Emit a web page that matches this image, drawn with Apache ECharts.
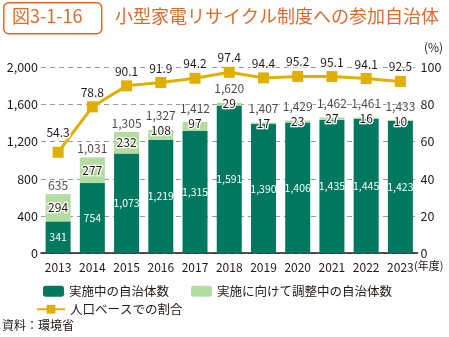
<!DOCTYPE html>
<html><head><meta charset="utf-8">
<script src="https://cdn.jsdelivr.net/npm/echarts@6/dist/echarts.min.js"></script>
<style>html,body{margin:0;padding:0;background:#fff}#c{width:449px;height:337px}</style>
</head><body><div id="c"></div>
<script>
const years = ['2013','2014','2015','2016','2017','2018','2019','2020','2021','2022','2023'];
const implemented = [341,754,1073,1219,1315,1591,1390,1406,1435,1445,1423];
const adjusting = [294,277,232,108,97,29,17,23,27,16,10];
const totals = [635,1031,1305,1327,1412,1620,1407,1429,1462,1461,1433];
const popRatio = [54.3,78.8,90.1,91.9,94.2,97.4,94.4,95.2,95.1,94.1,92.5];
const leftTicks = [0,400,800,1200,1600,2000];
const rightTicks = [0,20,40,60,80,100];

const FONT = '"Noto Sans CJK JP","Noto Sans",sans-serif';
const TXT = '#231815';
const ORANGE = '#e0692d';
const fmt = v => Number(v).toLocaleString('en-US');

const chart = echarts.init(document.getElementById('c'));
chart.setOption({
  animation:false,
  textStyle:{fontFamily:FONT,color:TXT},
  grid:{left:41,right:31.5,top:67.5,bottom:84,containLabel:false},
  xAxis:{type:'category',data:years,
    axisLine:{lineStyle:{color:'#231815',width:1.5}},
    axisTick:{show:false},
    axisLabel:{color:TXT,fontSize:12,margin:8,interval:0,fontFamily:FONT}},
  yAxis:[
    {type:'value',min:leftTicks[0],max:leftTicks[leftTicks.length-1],interval:400,
     axisLine:{show:false},axisTick:{show:false},
     axisLabel:{color:TXT,fontSize:12.5,margin:3,formatter:v=>fmt(v)},
     splitLine:{lineStyle:{color:'#9a9a9a',type:[5,4],width:1}}},
    {type:'value',min:rightTicks[0],max:rightTicks[rightTicks.length-1],interval:20,
     axisLine:{show:false},axisTick:{show:false},
     axisLabel:{color:TXT,fontSize:12.5,margin:3},
     splitLine:{show:false}}
  ],
  legend:[
    {left:38,top:280,itemWidth:21,itemHeight:11,itemGap:8,
     textStyle:{fontSize:12.5,color:TXT,fontFamily:FONT},data:['実施中の自治体数']},
    {left:186,top:280,itemWidth:21,itemHeight:11,
     textStyle:{fontSize:12.5,color:TXT,fontFamily:FONT},data:['実施に向けて調整中の自治体数']},
    {left:31,top:298,itemWidth:28,itemHeight:11,
     textStyle:{fontSize:12.5,color:TXT,fontFamily:FONT},data:['人口ベースでの割合']}
  ],
  graphic:[
    {type:'rect',left:3,top:2,shape:{width:98,height:31,r:5},style:{fill:'#fff',stroke:ORANGE,lineWidth:1.5}},
    {type:'text',left:12,top:7,style:{text:'図3-1-16',fill:ORANGE,font:'18px '+FONT}},
    {type:'text',left:115,top:7,style:{text:'小型家電リサイクル制度への参加自治体',fill:ORANGE,font:'18px '+FONT}},
    {type:'text',left:424,top:41,style:{text:'(%)',fill:TXT,font:'12px '+FONT}},
    {type:'text',left:414,top:260,style:{text:'(年度)',fill:TXT,font:'11px '+FONT}},
    {type:'text',left:2,top:319,style:{text:'資料：環境省',fill:TXT,font:'12px '+FONT}}
  ],
  series:[
    {name:'実施中の自治体数',type:'bar',stack:'a',data:implemented,barWidth:25,
     itemStyle:{color:'#00785f'},
     label:{show:true,position:'inside',color:'#fff',fontSize:10.5,fontFamily:FONT,formatter:p=>fmt(p.value)}},
    {name:'実施に向けて調整中の自治体数',type:'bar',stack:'a',barWidth:25,
     itemStyle:{color:'#b4dca1'},
     data:adjusting.map(v=>v<150?{value:v,label:{position:'top',distance:-7}}:{value:v}),
     label:{show:true,position:'inside',color:TXT,fontSize:12,fontFamily:FONT,
       textBorderColor:'#fff',textBorderWidth:2.5,formatter:p=>fmt(p.value)}},
    {name:'total',type:'scatter',symbolSize:0,silent:true,z:5,
     data:totals.map((v,i)=>({value:v,label:{distance:adjusting[i]<150?8:3}})),
     label:{show:true,position:'top',color:TXT,fontSize:12,fontFamily:FONT,
       textBorderColor:'#fff',textBorderWidth:2,formatter:p=>fmt(p.value)}},
    {name:'人口ベースでの割合',type:'line',yAxisIndex:1,data:popRatio.map((v,i)=>i===0?{value:v,label:{distance:8}}:{value:v}),
     symbol:'rect',symbolSize:11,z:6,
     lineStyle:{color:'#e0b000',width:3},itemStyle:{color:'#e0b000'},
     label:{show:true,position:'top',distance:3,color:TXT,fontSize:12,fontFamily:FONT,
       textBorderColor:'#fff',textBorderWidth:3}}
  ]
});
</script></body></html>
